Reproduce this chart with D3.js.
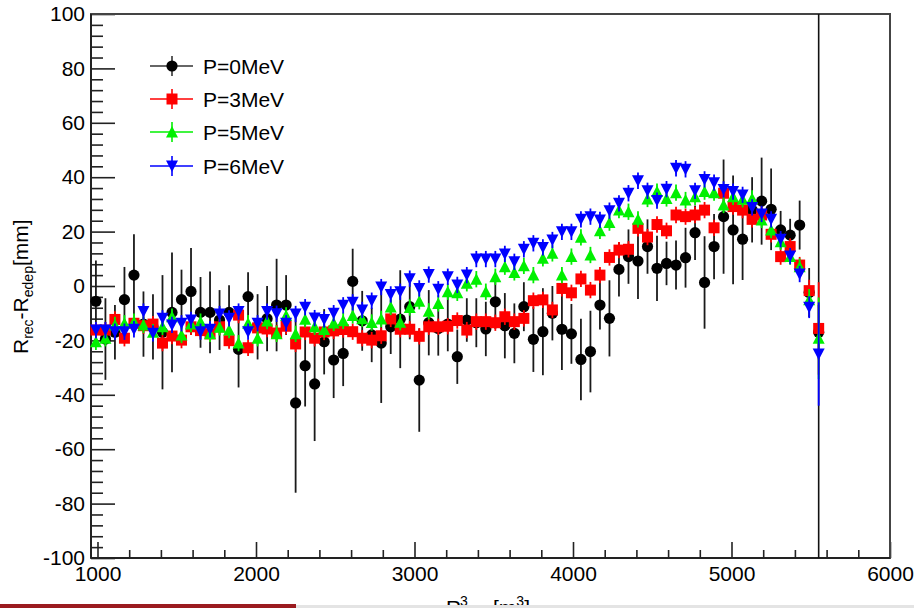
<!DOCTYPE html>
<html><head><meta charset="utf-8">
<script src="https://cdn.jsdelivr.net/npm/d3@7"></script>
<style>html,body{margin:0;padding:0;background:#fff;overflow:hidden}svg{display:block}</style>
</head><body>
<svg id="c" width="914" height="608"></svg>
<script>
// ---- data ----
const r3 = [990,1050,1110,1170,1230,1290,1350,1410,1470,1530,
1590,1650,1710,1770,1830,1890,1950,2010,2070,2130,
2190,2250,2310,2370,2430,2490,2550,2610,2670,2730,
2790,2850,2910,2970,3030,3090,3150,3210,3270,3330,
3390,3450,3510,3570,3630,3690,3750,3810,3870,3930,
3990,4050,4110,4170,4230,4290,4350,4410,4470,4530,
4590,4650,4710,4770,4830,4890,4950,5010,5070,5130,
5190,5250,5310,5370,5430,5490,5550];

const p0 = [-5.6,-19.5,-17,-5,4,-14,-15,-17,-9.7,-5,
-2,-9.7,-9.7,-12.5,-9.7,-23.3,-3.9,-15,-12,-7,
-7,-43,-29.3,-36,-20.5,-27.2,-24.8,1.7,-12.8,-18,
-21,-15,-12.2,-7.6,-34.6,-13.5,-15.6,-14,-26,-12.5,
-13.5,-15.8,-5.8,-14.6,-17.4,-7.6,-19.6,-16.8,-10,-15.9,
-17.6,-27,-24.1,-7,-11.9,6.1,10.8,9.2,14.5,6.5,
8.3,7.7,10.4,19.6,1.3,14.5,25.5,20.6,17.2,28,
31.2,28.2,20.6,18.7,22.4,-2.4,-17];
const p0Err = [15,15,10,12,15,12,12,21,22,11,
16,13,15,11,10,14,9,12,12,17,
11,33,15,21,12,14,12,12,11,10,
22,10,18,12,19,12,10,10,10,8,
9,10,10,12,11,9,12,16,10,15,
11,15,15,9,14,10,10,14,10,12,
8,9,11,10,17,12,21,20,15,12,
16,15,7,6,9,9,10];

const p3 = [-16.2,-16.2,-12.3,-19.2,-13.7,-14.6,-14,-21,-18.4,-19.9,
-15,-16.4,-17.6,-15,-20.1,-10.7,-22.7,-15.4,-15.8,-17.3,
-14.8,-21.3,-16.9,-19.2,-16.9,-16.5,-16,-16.8,-19.2,-19.9,
-18.3,-12.1,-15.9,-15.9,-18.5,-15,-15,-14.8,-12.7,-16.2,
-13.1,-13.1,-13.5,-11.3,-13.1,-11.9,-5.4,-5.1,-8.8,-0.9,
-2.5,2.6,-1.5,4,10.5,13.2,13.5,21.2,18,22.6,
20.3,26.1,25.5,26.1,27.9,21.4,34.1,29.2,27.9,24.5,
26.1,19,10.8,14.5,7.7,-1.7,-15.6];
const p3Err = [3,3,3,3,3,3,3,3,3,3,
3,3,3,3,3,3,3,3,3,3,
3,3,3,3,3,3,3,3,3,3,
3,3,3,3,3,3,3,3,3,3,
3,3,3,3,3,3,3,3,3,3,
3,3,3,3,3,3,3,3,3,3,
3,3,3,3,3,3,3,3,3,3,
3,3,3,3,3,4,17];

const p5 = [-20.5,-19.2,-14.3,-13.7,-13.1,-14.3,-17,-15,-11.3,-18,
-14,-13.1,-17.6,-15.2,-16.2,-21,-13.7,-19.2,-12.9,-17.6,
-10.8,-17.6,-12.2,-15,-16,-13.6,-12.8,-10.8,-12,-13.4,
-12.1,-7.7,-13.3,-7.9,-5.6,-9.3,-6.4,-2.1,-2.5,1,
2.5,-2.1,3.4,7.1,5,7.4,4,10.2,12,4,
10.8,17.9,11.4,20.3,23.3,27.9,27.3,24.5,32,34.7,
32.2,34.3,31.6,32.8,34.7,34.3,29.8,32.8,31.9,32.2,
24.3,20.6,16.3,10.8,7.1,-5.1,-19.2];
const p5Err = [3,3,3,3,3,3,3,3,3,3,
3,3,3,3,3,3,3,3,3,3,
3,3,3,3,3,3,3,3,3,3,
3,3,3,3,3,3,3,3,3,3,
3,3,3,3,3,3,3,3,3,3,
3,3,3,3,3,3,3,3,3,3,
3,3,3,3,3,3,3,3,3,3,
3,3,3,3,3,4,15];

const p6 = [-16.2,-16.2,-16.8,-16.8,-15.9,-9.4,-17.4,-11.9,-14.3,-13.7,
-12.5,-16.8,-15.9,-10.3,-11.9,-9.4,-16.8,-13.7,-9.4,-10.2,
-13.7,-10.3,-7.8,-11.8,-12.3,-10,-7.1,-6,-8.8,-5.4,
-0.4,-3.1,-2.1,2.7,-0.9,4.2,-1.2,3.4,0.4,4,
9.9,9.9,9.9,11.8,8.9,13.5,15.7,14.2,16.9,19.9,
19.9,24.5,25.5,24.3,27.7,30.4,34.1,38.7,35,31.4,
35.6,43.3,42.9,35,39.2,38,35.5,34.7,33.5,28.9,
26.5,24.5,17.2,11,4.4,-7.8,-25];
const p6Err = [3,3,3,3,3,3,3,3,3,3,
3,3,3,3,3,3,3,3,3,3,
3,3,3,3,3,3,3,3,3,3,
3,3,3,3,3,3,3,3,3,3,
3,3,3,3,3,3,3,3,3,3,
3,3,3,3,3,3,3,3,3,3,
3,3,3,3,3,3,3,3,3,3,
3,3,3,3,3,4,19];

const seriesNames = ["P=0MeV","P=3MeV","P=5MeV","P=6MeV"];
const seriesColors = ["#000000","#ff0000","#00f000","#0000ff"];
const xMajorTicks = [1000,2000,3000,4000,5000,6000];
const xMinorTicks = [1200,1400,1600,1800,2200,2400,2600,2800,3200,3400,3600,3800,4200,4400,4600,4800,5200,5400,5600,5800];
const yMajorTicks = [-100,-80,-60,-40,-20,0,20,40,60,80,100];
const yMinorTicks = [-96,-92,-88,-84,-76,-72,-68,-64,-56,-52,-48,-44,-36,-32,-28,-24,-16,-12,-8,-4,4,8,12,16,24,28,32,36,44,48,52,56,64,68,72,76,84,88,92,96];
const markerLine = 5550;

// ---- layout ----
const svg = d3.select("#c");
const FONT = "'Liberation Sans', Arial, Helvetica, sans-serif";
const L = 91, R = 890, T = 14, B = 558;
const x = d3.scaleLinear().domain([959, 6000]).range([L, R]);
const y = d3.scaleLinear().domain([-100, 100]).range([B, T]);
const plainFmt = d => String(d);

svg.append("rect").attr("width", 914).attr("height", 608).attr("fill", "#fff");

// axes
const gy = svg.append("g").attr("transform", `translate(${L},0)`);
gy.call(d3.axisLeft(y).tickValues(yMajorTicks).tickSize(-24).tickSizeOuter(0).tickPadding(6).tickFormat(plainFmt));
gy.select(".domain").remove();
gy.selectAll("text").attr("font-family", FONT).attr("font-size", 21).attr("fill", "#000");
gy.selectAll("line").attr("stroke", "#222").attr("stroke-width", 1.6);
const gym = svg.append("g").attr("transform", `translate(${L},0)`);
gym.call(d3.axisLeft(y).tickValues(yMinorTicks).tickSize(-12).tickSizeOuter(0).tickFormat(""));
gym.select(".domain").remove();
gym.selectAll("line").attr("stroke", "#222").attr("stroke-width", 1.6);

const gx = svg.append("g").attr("transform", `translate(0,${B})`);
gx.call(d3.axisBottom(x).tickValues(xMajorTicks).tickSize(-16).tickSizeOuter(0).tickPadding(8).tickFormat(plainFmt));
gx.select(".domain").remove();
gx.selectAll("text").attr("font-family", FONT).attr("font-size", 21).attr("fill", "#000");
gx.selectAll("line").attr("stroke", "#222").attr("stroke-width", 1.6);
const gxm = svg.append("g").attr("transform", `translate(0,${B})`);
gxm.call(d3.axisBottom(x).tickValues(xMinorTicks).tickSize(-8).tickSizeOuter(0).tickFormat(""));
gxm.select(".domain").remove();
gxm.selectAll("line").attr("stroke", "#222").attr("stroke-width", 1.6);

// frame
svg.append("rect").attr("x", L).attr("y", T).attr("width", R - L).attr("height", B - T)
  .attr("fill", "none").attr("stroke", "#444").attr("stroke-width", 2);
svg.append("line").attr("x1", L).attr("x2", L).attr("y1", T).attr("y2", B).attr("stroke", "#222").attr("stroke-width", 2);
svg.append("line").attr("x1", L).attr("x2", R).attr("y1", B).attr("y2", B).attr("stroke", "#222").attr("stroke-width", 2);

// vertical marker line
svg.append("line").attr("x1", x(markerLine)).attr("x2", x(markerLine)).attr("y1", T).attr("y2", B)
  .attr("stroke", "#111").attr("stroke-width", 1.6);

// markers
const sq = 11;
const markerPaths = [
  d3.symbol().type(d3.symbolCircle).size(Math.PI * 5.6 * 5.6)(),
  `M${-sq/2},${-sq/2}h${sq}v${sq}h${-sq}Z`,
  "M0,-6L6,5.5L-6,5.5Z",
  "M0,6L6,-5.5L-6,-5.5Z"
];

const allSeries = [
  {vals: p0, errs: p0Err},
  {vals: p3, errs: p3Err},
  {vals: p5, errs: p5Err},
  {vals: p6, errs: p6Err}
];

allSeries.forEach((s, k) => {
  const data = r3.map((r, i) => ({r, v: s.vals[i], e: s.errs[i]}));
  const g = svg.append("g");
  const col = k === 0 ? "#1a1a1a" : seriesColors[k];
  g.selectAll("line.err").data(data).join("line")
    .attr("x1", d => x(d.r)).attr("x2", d => x(d.r))
    .attr("y1", d => y(d.v + d.e)).attr("y2", d => y(d.v - d.e))
    .attr("stroke", col).attr("stroke-width", 1.8);
  g.selectAll("path.m").data(data).join("path")
    .attr("d", markerPaths[k])
    .attr("transform", d => `translate(${x(d.r)},${y(d.v)})`)
    .attr("fill", seriesColors[k]);
});

// legend
const legY = [66, 99, 132, 166];
seriesNames.forEach((name, k) => {
  const g = svg.append("g").attr("transform", `translate(0,${legY[k]})`);
  const col = k === 0 ? "#333" : seriesColors[k];
  g.append("line").attr("x1", 150).attr("x2", 193).attr("y1", 0).attr("y2", 0).attr("stroke", col).attr("stroke-width", 1.6);
  g.append("line").attr("x1", 172).attr("x2", 172).attr("y1", -10).attr("y2", 10).attr("stroke", col).attr("stroke-width", 1.6);
  g.append("path").attr("d", markerPaths[k]).attr("transform", "translate(172,0)").attr("fill", seriesColors[k]);
  g.append("text").attr("x", 203).attr("y", 0).attr("dy", "0.36em")
    .attr("font-family", FONT).attr("font-size", 21).attr("fill", "#000").text(name);
});

// y title
const yt = svg.append("text").attr("transform", "translate(28,354) rotate(-90)")
  .attr("font-family", FONT).attr("font-size", 21).attr("fill", "#000");
yt.append("tspan").text("R");
yt.append("tspan").attr("font-size", 14).attr("dy", 5).text("rec");
yt.append("tspan").attr("dy", -5).text("-R");
yt.append("tspan").attr("font-size", 14).attr("dy", 5).text("edep");
yt.append("tspan").attr("dy", -5).text("[mm]");

// x title (cut off at the bottom edge, as in the reference)
const xt = svg.append("text").attr("x", 446).attr("y", 615)
  .attr("font-family", FONT).attr("font-size", 21).attr("fill", "#000");
xt.append("tspan").text("R");
xt.append("tspan").attr("x", 460).attr("dy", -9).attr("font-size", 14).text("3");
xt.append("tspan").attr("x", 460).attr("dy", 15).attr("font-size", 14).text("edep");
xt.append("tspan").attr("x", 493).attr("dy", -6).text("[m");
xt.append("tspan").attr("dy", -9).attr("font-size", 14).text("3");
xt.append("tspan").attr("dy", 9).text("]");

// bottom window strip
svg.append("rect").attr("x", 0).attr("y", 604).attr("width", 296).attr("height", 4).attr("fill", "#9b1b1f");
svg.append("rect").attr("x", 296).attr("y", 605).attr("width", 618).attr("height", 3).attr("fill", "#e4e4e4");
</script>
</body></html>
